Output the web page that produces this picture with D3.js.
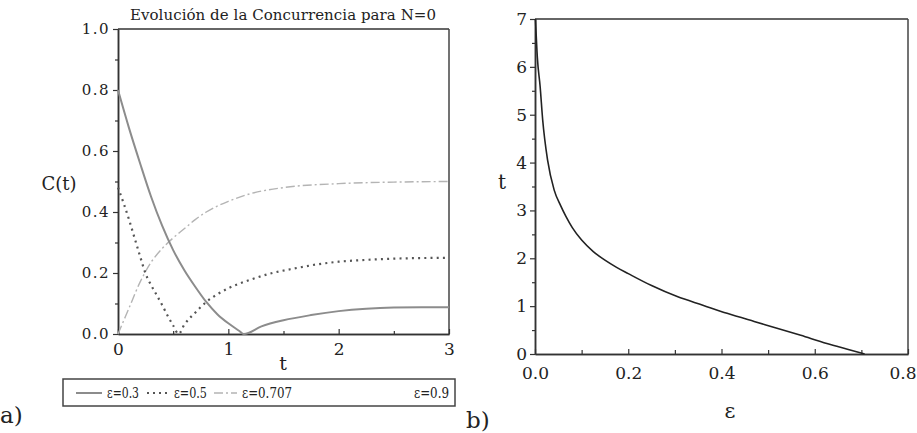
<!DOCTYPE html>
<html>
<head>
<meta charset="utf-8">
<script src="https://cdn.jsdelivr.net/npm/d3@7"></script>
<style>
  body { margin: 0; background: #fff; }
  svg text { font-family: "DejaVu Serif", "Liberation Serif", serif; fill: #222; }
</style>
</head>
<body>
<script>
// panel a) concurrence C(t) for N=0
var t03 = [0, 0.1, 0.2, 0.3, 0.4, 0.5, 0.6, 0.7, 0.8, 0.9, 1.0, 1.1, 1.14, 1.3, 1.5, 1.75, 2.0, 2.25, 2.5, 2.75, 3.0];
var c03 = [0.80, 0.675, 0.56, 0.45, 0.355, 0.275, 0.21, 0.155, 0.105, 0.065, 0.035, 0.01, 0, 0.025, 0.045, 0.062, 0.075, 0.083, 0.087, 0.088, 0.088];
var t05 = [0, 0.05, 0.1, 0.15, 0.2, 0.25, 0.3, 0.35, 0.4, 0.45, 0.5, 0.55, 0.6, 0.7, 0.8, 0.9, 1.0, 1.2, 1.4, 1.6, 1.8, 2.0, 2.25, 2.5, 2.75, 3.0];
var c05 = [0.48, 0.43, 0.375, 0.315, 0.255, 0.198, 0.16, 0.128, 0.095, 0.06, 0.028, 0, 0.03, 0.07, 0.105, 0.13, 0.15, 0.178, 0.2, 0.215, 0.228, 0.237, 0.243, 0.247, 0.249, 0.25];
var t0707 = [0, 0.1, 0.2, 0.3, 0.4, 0.5, 0.6, 0.7, 0.8, 1.0, 1.2, 1.5, 2.0, 2.5, 3.0];
var c0707 = [0, 0.085, 0.17, 0.235, 0.28, 0.315, 0.345, 0.375, 0.40, 0.435, 0.46, 0.48, 0.493, 0.498, 0.50];
var legendLabels = ["\u03b5=0.3", "\u03b5=0.5", "\u03b5=0.707", "\u03b5=0.9"];
var yTicksA = [0, 0.2, 0.4, 0.6, 0.8, 1.0];
var xTicksA = [0, 1, 2, 3];

// panel b) time at which entanglement vanishes vs epsilon
var epsB = [0.001, 0.005, 0.011, 0.0165, 0.027, 0.041, 0.055, 0.066, 0.08, 0.1, 0.125, 0.15, 0.175, 0.2, 0.25, 0.305, 0.36, 0.412, 0.47, 0.519, 0.57, 0.626, 0.67, 0.707];
var tB = [7, 6.2, 5.59, 4.89, 4.05, 3.43, 3.1, 2.88, 2.64, 2.38, 2.14, 1.96, 1.81, 1.68, 1.43, 1.2, 1.02, 0.85, 0.68, 0.54, 0.39, 0.22, 0.1, 0];
var yTicksB = [0, 1, 2, 3, 4, 5, 6, 7];
var xTicksB = [0, 0.2, 0.4, 0.6, 0.8];

var svg = d3.select("body").append("svg")
    .attr("width", 917)
    .attr("height", 433);

// ---------- panel a ----------
var xa = d3.scaleLinear().domain([0, 3]).range([118, 449]);
var ya = d3.scaleLinear().domain([0, 1]).range([334, 29]);

svg.append("text")
    .attr("x", 283).attr("y", 20)
    .attr("text-anchor", "middle")
    .attr("font-size", "15px")
    .attr("textLength", 306)
    .text("Evoluci\u00f3n de la Concurrencia para N=0");

// box top / right
svg.append("line").attr("x1", xa(0)).attr("x2", xa(3)).attr("y1", ya(1)).attr("y2", ya(1))
    .attr("stroke", "#333").attr("stroke-width", 1.5);
svg.append("line").attr("x1", xa(3)).attr("x2", xa(3)).attr("y1", ya(1)).attr("y2", ya(0))
    .attr("stroke", "#444").attr("stroke-width", 1.5);

var yaxA = svg.append("g")
    .attr("transform", "translate(" + xa(0) + ",0)")
    .call(d3.axisLeft(ya).tickValues(yTicksA).tickFormat(d3.format(".1f")).tickSizeInner(5).tickSizeOuter(0).tickPadding(3));
svg.append("g")
    .attr("transform", "translate(" + xa(0) + ",0)")
    .call(d3.axisLeft(ya).tickValues(d3.range(0.1, 1, 0.2)).tickFormat("").tickSizeInner(3).tickSizeOuter(0));
var xaxA = svg.append("g")
    .attr("transform", "translate(0," + ya(0) + ")")
    .call(d3.axisBottom(xa).tickValues(xTicksA).tickFormat(d3.format("d")).tickSizeInner(-5).tickSizeOuter(0).tickPadding(9));
svg.append("g")
    .attr("transform", "translate(0," + ya(0) + ")")
    .call(d3.axisBottom(xa).tickValues([0.5, 1.5, 2.5]).tickFormat("").tickSizeInner(-3).tickSizeOuter(0));

svg.selectAll(".domain").attr("stroke", "#333").attr("stroke-width", 1.5);
svg.selectAll(".tick line").attr("stroke", "#333").attr("stroke-width", 1.2);
svg.selectAll("g").attr("font-family", null);
yaxA.selectAll("text").attr("font-size", "15px").attr("letter-spacing", "1.5px").attr("fill", "#222");
xaxA.selectAll("text").attr("font-size", "17px").attr("fill", "#222");

svg.append("text").attr("x", 59).attr("y", 190).attr("text-anchor", "middle")
    .attr("font-size", "18px").text("C(t)");
svg.append("text").attr("x", 283).attr("y", 370).attr("text-anchor", "middle")
    .attr("font-size", "19px").text("t");

var lineA = d3.line()
    .x(function(d) { return xa(d[0]); })
    .y(function(d) { return ya(d[1]); })
    .curve(d3.curveMonotoneX);

var seriesA = [
    { t: t0707, c: c0707, color: "#b4b4b4", width: 1.4, dash: "9,3,2,3" },
    { t: t05, c: c05, color: "#555", width: 2.2, dash: "2,4.2" },
    { t: t03, c: c03, color: "#8c8c8c", width: 2, dash: null }
];
seriesA.forEach(function(s) {
    var pts = s.t.map(function(t, i) { return [t, s.c[i]]; });
    svg.append("path")
        .datum(pts)
        .attr("d", lineA)
        .attr("fill", "none")
        .attr("stroke", s.color)
        .attr("stroke-width", s.width)
        .attr("stroke-dasharray", s.dash);
});

// legend
svg.append("rect").attr("x", 63).attr("y", 379).attr("width", 392).attr("height", 27)
    .attr("fill", "none").attr("stroke", "#444").attr("stroke-width", 1.5);
var legendItems = [
    { x1: 76, x2: 102, tx: 107, w: 32, color: "#8c8c8c", width: 2, dash: null },
    { x1: 147, x2: 168, tx: 174, w: 33, color: "#555", width: 2.2, dash: "2,4" },
    { x1: 214, x2: 237, tx: 242, w: 50, color: "#b4b4b4", width: 1.4, dash: "9,3,2,3" },
    { x1: null, x2: null, tx: 414, w: 35, color: "none", width: 0, dash: null }
];
legendItems.forEach(function(it, i) {
    if (it.x1 !== null) {
        svg.append("line").attr("x1", it.x1).attr("x2", it.x2).attr("y1", 393).attr("y2", 393)
            .attr("stroke", it.color).attr("stroke-width", it.width).attr("stroke-dasharray", it.dash);
    }
    svg.append("text").attr("x", it.tx).attr("y", 398).attr("font-size", "14px")
        .attr("textLength", it.w).attr("lengthAdjust", "spacingAndGlyphs")
        .text(legendLabels[i]);
});

svg.append("text").attr("x", 0).attr("y", 423).attr("font-size", "23px").text("a)");

// ---------- panel b ----------
var xb = d3.scaleLinear().domain([0, 0.8]).range([535, 908]);
var yb = d3.scaleLinear().domain([0, 7]).range([354, 19]);

svg.append("line").attr("x1", xb(0)).attr("x2", xb(0.8)).attr("y1", yb(7)).attr("y2", yb(7))
    .attr("stroke", "#333").attr("stroke-width", 1.5);
svg.append("line").attr("x1", xb(0.8)).attr("x2", xb(0.8)).attr("y1", yb(7)).attr("y2", yb(0))
    .attr("stroke", "#444").attr("stroke-width", 1.5);

var yaxB = svg.append("g")
    .attr("transform", "translate(" + xb(0) + ",0)")
    .call(d3.axisLeft(yb).tickValues(yTicksB).tickFormat(d3.format("d")).tickSizeInner(5).tickSizeOuter(0).tickPadding(3));
svg.append("g")
    .attr("transform", "translate(" + xb(0) + ",0)")
    .call(d3.axisLeft(yb).tickValues(d3.range(0.5, 7, 1)).tickFormat("").tickSizeInner(3).tickSizeOuter(0));
var xaxB = svg.append("g")
    .attr("transform", "translate(0," + yb(0) + ")")
    .call(d3.axisBottom(xb).tickValues(xTicksB).tickFormat(d3.format(".1f")).tickSizeInner(-5).tickSizeOuter(0).tickPadding(13));
svg.append("g")
    .attr("transform", "translate(0," + yb(0) + ")")
    .call(d3.axisBottom(xb).tickValues([0.1, 0.3, 0.5, 0.7]).tickFormat("").tickSizeInner(-4).tickSizeOuter(0));

svg.selectAll(".domain").attr("stroke", "#333").attr("stroke-width", 1.5);
svg.selectAll(".tick line").attr("stroke", "#333").attr("stroke-width", 1.2);
svg.selectAll("g").attr("font-family", null);
yaxB.selectAll("text").attr("font-size", "17px").attr("fill", "#222");
xaxB.selectAll("text").attr("font-size", "17px").attr("fill", "#222");
// keep the last label inside the page
xaxB.selectAll(".tick text").filter(function(d) { return d === 0.8; })
    .attr("text-anchor", "end").attr("x", 916 - xb(0.8));

svg.append("text").attr("x", 502).attr("y", 189).attr("text-anchor", "middle")
    .attr("font-size", "20px").text("t");
svg.append("text").attr("x", 730).attr("y", 418).attr("text-anchor", "middle")
    .attr("font-size", "21px").text("\u03b5");
svg.append("text").attr("x", 466).attr("y", 428).attr("font-size", "23px").text("b)");

var lineB = d3.line()
    .x(function(d) { return xb(d[0]); })
    .y(function(d) { return yb(d[1]); })
    .curve(d3.curveMonotoneX);

svg.append("path")
    .datum(epsB.map(function(e, i) { return [e, tB[i]]; }))
    .attr("d", lineB)
    .attr("fill", "none")
    .attr("stroke", "#222")
    .attr("stroke-width", 1.6);
</script>
</body>
</html>
